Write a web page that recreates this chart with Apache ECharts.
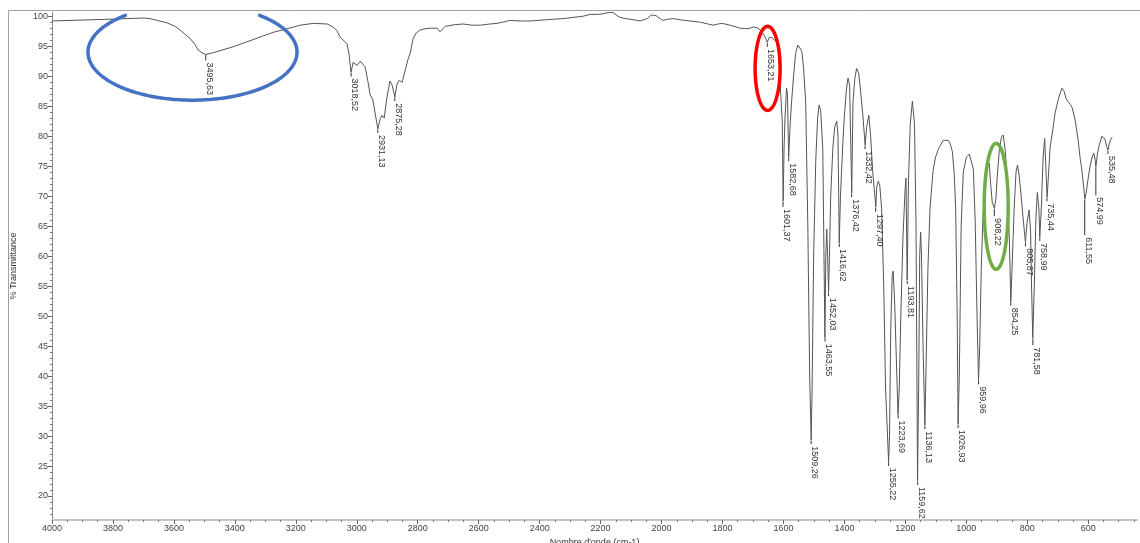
<!DOCTYPE html>
<html><head><meta charset="utf-8">
<script src="https://cdn.jsdelivr.net/npm/echarts@6/dist/echarts.min.js"></script>
<style>html,body{margin:0;padding:0;background:#fff}#c{width:1140px;height:543px}</style>
</head><body><div id="c"></div>
<script>
// ---- data ----
const wavenumbers = [4000,3941,3875,3810,3754,3701,3678,3655,3623,3596,3580,3564,3547,3531,3521,3508,3496,3481,3472,3439,3406,3373,3340,3308,3275,3229,3186,3143,3097,3078,3065,3055,3042,3032,3025,3019,3012,3006,2999,2989,2983,2973,2963,2956,2947,2937,2931,2924,2917,2910,2901,2891,2884,2875,2868,2861,2851,2841,2832,2825,2815,2805,2792,2776,2759,2736,2727,2710,2677,2651,2622,2595,2563,2540,2513,2497,2464,2431,2382,2323,2290,2257,2234,2211,2192,2175,2169,2159,2146,2136,2119,2103,2070,2047,2034,2028,2018,2011,1995,1978,1962,1939,1906,1873,1831,1814,1801,1775,1742,1716,1699,1683,1670,1660,1653,1647,1640,1634,1624,1617,1611,1604,1601,1598,1595,1590,1587,1583,1578,1573,1566,1560,1553,1547,1540,1534,1527,1520,1514,1509,1506,1501,1494,1488,1483,1478,1471,1467,1464,1461,1458,1455,1452,1449,1445,1438,1432,1425,1421,1417,1413,1406,1400,1393,1388,1383,1376,1372,1366,1360,1353,1347,1340,1332,1327,1320,1314,1307,1297,1294,1289,1284,1278,1271,1265,1255,1252,1248,1243,1240,1235,1228,1224,1220,1215,1208,1201,1198,1194,1190,1184,1177,1170,1165,1160,1156,1153,1150,1147,1142,1136,1132,1126,1119,1109,1101,1092,1076,1059,1053,1046,1040,1035,1030,1027,1023,1017,1010,1000,990,984,977,971,964,960,956,951,945,938,931,925,920,915,908,903,899,892,885,879,872,866,859,854,850,843,837,832,827,820,814,806,801,794,789,786,782,777,772,767,762,759,754,748,743,740,735,731,725,715,709,699,692,686,679,673,666,659,653,643,633,627,620,615,611,607,601,594,587,582,577,575,570,564,555,550,545,540,535,531,524,521];
const transmittance = [99.2,99.3,99.4,99.5,99.6,99.7,99.6,99.3,98.9,98.3,97.7,97.0,96.3,95.3,94.4,93.9,93.6,93.8,93.9,94.4,94.9,95.5,96.1,96.7,97.3,97.9,98.5,98.8,98.7,98.2,97.6,96.5,95.9,95.4,93.5,90.6,92.3,92.6,91.8,92.5,92.8,91.6,89.0,86.9,86.0,83.0,81.2,82.7,83.5,83.0,86.5,89.2,88.5,86.5,88.7,89.3,89.0,91.0,92.8,93.8,96.3,97.2,97.7,97.9,98.0,98.0,97.4,98.3,98.6,98.7,98.5,98.5,98.7,98.8,99.1,99.3,99.2,99.2,99.4,99.6,99.8,100.0,100.3,100.3,100.4,100.6,100.5,100.6,100.1,99.8,99.6,99.5,99.2,99.6,100.2,100.4,100.1,99.8,99.3,99.5,99.6,99.4,99.2,99.0,98.5,98.7,98.8,98.5,98.0,97.9,98.2,98.0,97.4,96.5,95.7,96.4,96.5,96.3,95.8,94.5,89.0,82.5,69.2,78.0,83.0,88.0,87.0,76.5,82.0,86.0,90.5,93.8,95.2,95.0,94.2,91.5,85.5,65.0,40.0,29.3,38.0,60.0,76.0,83.0,85.2,84.3,78.0,60.0,46.4,60.0,64.5,60.0,54.0,60.0,70.0,78.0,81.5,82.5,80.0,62.2,70.0,78.0,83.5,88.0,89.7,88.5,70.5,85.5,89.5,91.3,90.5,87.5,83.8,78.5,81.5,83.5,80.0,74.0,68.2,71.5,72.5,71.8,68.0,55.0,38.0,25.7,30.0,48.0,57.0,57.5,52.0,40.0,33.6,38.0,50.0,63.0,71.0,73.0,56.0,72.0,82.0,85.8,82.0,65.0,22.5,40.0,60.0,64.0,60.0,45.0,31.8,42.0,58.0,68.0,74.3,76.5,77.8,79.3,79.3,78.7,77.5,74.0,68.0,50.0,32.0,40.0,65.0,74.0,76.5,77.0,76.8,74.5,66.0,48.0,39.3,45.0,58.0,67.0,72.5,74.8,75.5,72.0,69.0,68.0,69.5,73.0,77.5,79.8,80.2,77.5,72.7,63.0,52.4,58.0,68.0,74.0,75.2,73.5,70.0,66.5,62.3,65.5,67.7,64.0,55.0,46.3,55.0,66.0,70.6,68.0,63.2,68.0,76.5,79.6,76.0,69.8,73.0,78.2,81.5,83.8,86.0,87.2,88.0,87.5,86.3,85.7,85.3,84.8,82.7,79.3,76.5,74.0,71.5,69.5,70.5,72.7,75.0,76.5,77.2,76.0,74.8,77.0,78.5,80.0,80.2,79.5,78.3,77.7,78.8,79.7,79.8];
const peakWn = [3495.63,3018.52,2931.13,2875.28,1653.21,1601.37,1582.68,1509.26,1463.55,1452.03,1416.62,1376.42,1332.42,1297.40,1255.22,1223.69,1193.81,1159.62,1136.13,1026.93,959.96,908.22,854.25,805.87,781.58,758.99,735.44,611.55,574.99,535.48];
const peakT = [93.6,90.6,81.2,86.5,95.7,69.2,76.5,29.3,46.4,54.0,62.2,70.5,78.5,68.2,25.7,33.6,56.0,22.5,31.8,32.0,39.3,68.0,52.4,62.3,46.3,63.2,69.8,69.5,74.8,77.7];
const xTickLabels = [4000,3800,3600,3400,3200,3000,2800,2600,2400,2200,2000,1800,1600,1400,1200,1000,800,600];
const yTickLabels = [20,25,30,35,40,45,50,55,60,65,70,75,80,85,90,95,100];

// ---- styles ----
const FONT = 'Liberation Sans, Arial, sans-serif';
const leaderLen = {'611,55':36,'574,99':28,'908,22':8,'781,58':7,'3495,63':6,'1601,37':6,'1653,21':5,'1297,40':5};
const annotations = [
  {wn:3539, t:94.0, rx:104.5, ry:48, from:-50, to:230, color:'#4472c4'},
  {wn:1652, t:91.3, rx:12.5, ry:42, from:0, to:360, color:'#ff0000'},
  {wn:902, t:68.3, rx:12, ry:63, from:0, to:360, color:'#70ad47'}
];

const fmt = v => v.toFixed(2).replace('.', ',');
const peakLabels = peakWn.map(fmt);
const minorX = [];
for (let v = 4000; v >= 450; v -= 50) if (v % 200 !== 0) minorX.push(v);
const minorY = [];
for (let v = 17; v <= 100; v += 1) if (v % 5 !== 0) minorY.push(v);

const chart = echarts.init(document.getElementById('c'), null, {renderer:'canvas'});
const xCommon = {type:'value', inverse:true, min:440, max:4000, position:'bottom', splitLine:{show:false}};
const yCommon = {type:'value', min:16, max:100.7, position:'left', splitLine:{show:false}};
chart.setOption({
  animation:false,
  backgroundColor:'#fff',
  grid:{left:52, right:3, top:12, bottom:23, containLabel:false, outerBoundsMode:'none'},
  xAxis:[
    Object.assign({}, xCommon, {
      axisLine:{show:true, lineStyle:{color:'#c6c6c6', width:2}},
      axisTick:{show:true, length:4, customValues:xTickLabels, lineStyle:{color:'#666'}},
      axisLabel:{customValues:xTickLabels, fontSize:9, color:'#444', margin:4, fontFamily:FONT, formatter:v=>String(v)},
      name:"Nombre d'onde (cm-1)", nameLocation:'middle', nameGap:14,
      nameTextStyle:{fontSize:9, color:'#333', fontFamily:FONT}
    }),
    Object.assign({}, xCommon, {
      axisLine:{show:false},
      axisTick:{show:true, length:2, customValues:minorX, lineStyle:{color:'#777'}},
      axisLabel:{show:false}
    })
  ],
  yAxis:[
    Object.assign({}, yCommon, {
      axisLine:{show:true, lineStyle:{color:'#888', width:1}},
      axisTick:{show:true, length:4, customValues:yTickLabels, lineStyle:{color:'#666'}},
      axisLabel:{customValues:yTickLabels, fontSize:9, color:'#444', margin:4, fontFamily:FONT, formatter:v=>String(v)},
      name:'% Transmittance', nameLocation:'middle', nameGap:34, nameRotate:90,
      nameTextStyle:{fontSize:9, color:'#333', fontFamily:FONT}
    }),
    Object.assign({}, yCommon, {
      axisLine:{show:false},
      axisTick:{show:true, length:2, customValues:minorY, lineStyle:{color:'#777'}},
      axisLabel:{show:false}
    })
  ],
  series:[
    {
      type:'line', xAxisIndex:0, yAxisIndex:0,
      data: wavenumbers.map((w,i)=>[w, transmittance[i]]),
      showSymbol:false, symbol:'none', smooth:false, sampling:null,
      lineStyle:{color:'#555', width:1}, silent:true, z:2
    },
    {
      type:'custom', xAxisIndex:0, yAxisIndex:0, encode:{x:0, y:1},
      data: peakWn.map((w,i)=>[w, peakT[i], i]),
      silent:true, z:3,
      renderItem:(params, api)=>{
        const i = api.value(2);
        const p = api.coord([api.value(0), api.value(1)]);
        const lab = peakLabels[i];
        const lead = leaderLen[lab] != null ? leaderLen[lab] : 4;
        return {type:'group', children:[
          {type:'line', shape:{x1:p[0], y1:p[1]+0.5, x2:p[0], y2:p[1]+lead}, style:{stroke:'#333', lineWidth:1}},
          {type:'text', x:p[0]+3.5, y:p[1]+lead+2, rotation:-Math.PI/2,
           style:{text:lab, fontSize:9, fontFamily:FONT, fill:'#333', align:'left', verticalAlign:'middle'}}
        ]};
      }
    }
  ]
});

// frame + annotation ellipses anchored in data space
const graphics = [{type:'polyline', shape:{points:[[8.5,543],[8.5,10.5],[1140,10.5]]}, style:{stroke:'#a0a0a0', fill:null, lineWidth:1}, z:1}];
annotations.forEach(a=>{
  const c = chart.convertToPixel({gridIndex:0}, [a.wn, a.t]);
  const pts = [];
  const n = 160;
  for (let k=0;k<=n;k++){
    const t = (a.from + (a.to-a.from)*k/n) * Math.PI/180;
    pts.push([c[0] + a.rx*Math.cos(t), c[1] + a.ry*Math.sin(t)]);
  }
  graphics.push({type:'polyline', shape:{points:pts}, style:{stroke:a.color, lineWidth:3.5, fill:null, lineCap:'round'}, z:10});
});
chart.setOption({graphic:graphics});
</script></body></html>
